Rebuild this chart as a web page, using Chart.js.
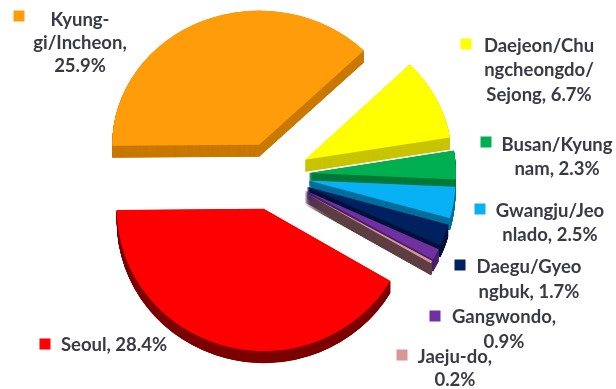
<!DOCTYPE html>
<html>
<head>
<meta charset="utf-8">
<style>html,body{margin:0;padding:0;background:#fff}canvas{display:block}</style>
<script src="https://cdn.jsdelivr.net/npm/chart.js@4/dist/chart.umd.min.js"></script>
</head>
<body>
<canvas id="pie" width="616" height="389"></canvas>
<script>
// Regional shares, clockwise from the nine o'clock position
const regions = ["Kyung-gi/Incheon", "Daejeon/Chungcheongdo/Sejong", "Busan/Kyungnam", "Gwangju/Jeonlado", "Daegu/Gyeongbuk", "Gangwondo", "Jaeju-do", "Seoul"];
const shares = [25.9, 6.7, 2.3, 2.5, 1.7, 0.9, 0.2, 28.4];
const faceColors = ["#ff9c0a", "#ffff00", "#00b050", "#08b0f4", "#002060", "#7030a0", "#d99694", "#ff0000"];
const sideColors = ["#c97800", "#c8c400", "#007a38", "#006f9c", "#00133c", "#4a1f70", "#5e4044", "#7c0000"];

// Wrapped label text, one entry per line, as printed beside each slice
const labelLines = [
  ["Kyung-", "gi/Incheon,", "25.9%"],
  ["Daejeon/Chu", "ngcheongdo/", "Sejong, 6.7%"],
  ["Busan/Kyung", "nam, 2.3%"],
  ["Gwangju/Jeo", "nlado, 2.5%"],
  ["Daegu/Gyeo", "ngbuk, 1.7%"],
  ["Gangwondo,", "0.9%"],
  ["Jaeju-do,", "0.2%"],
  ["Seoul, 28.4%"]
];

// Label layout: swatch centre, text centre x, and the baseline-middle y of every line
const labelLayout = [
  {sx: 19, sy: 16, tx: 80, ys: [20, 43, 66]},
  {sx: 466, sy: 44, tx: 539, ys: [46, 70, 95]},
  {sx: 486, sy: 142, tx: 557, ys: [145, 169]},
  {sx: 480, sy: 209, tx: 550, ys: [211, 235]},
  {sx: 460, sy: 265, tx: 529, ys: [267, 292]},
  {sx: 435, sy: 316, tx: 504, ys: [317, 342]},
  {sx: 402, sy: 355, tx: 455, ys: [357, 380]},
  {sx: 45, sy: 344, tx: 114, ys: [345]}
];

const TILT = 0.94;         // vertical squash of the pie plane
const PERSPECTIVE = 0.03;  // front wedges read a little taller than back ones
const DEPTH = 12;          // height of the slice walls in pixels
const EXPLODE = 36;        // how far every wedge is pulled out from the centre

// Draws each arc as an extruded, pulled-out wedge on a tilted plane
const tiltedPie = {
  id: "tiltedPie",
  beforeDatasetDraw(chart, args) {
    const ctx = chart.ctx;
    const area = chart.chartArea;
    const midY = (area.top + area.bottom) / 2;
    args.meta.data.forEach((arc, i) => {
      const mid = (arc.startAngle + arc.endAngle) / 2;
      const tilt = TILT + PERSPECTIVE * Math.sin(mid);
      ctx.save();
      ctx.translate(0, midY);
      ctx.scale(1, tilt);
      ctx.translate(0, -midY);
      ctx.translate(Math.cos(mid) * EXPLODE, Math.sin(mid) * EXPLODE);
      const own = arc.options;
      arc.options = {...own, backgroundColor: sideColors[i]};
      for (let d = DEPTH; d > 0; d -= 0.25) {
        ctx.save();
        ctx.translate(0, d / tilt);
        arc.draw(ctx);
        ctx.restore();
      }
      arc.options = own;
      arc.draw(ctx);
      ctx.restore();
    });
    return false;
  }
};

// Swatch and wrapped text for every slice
const sliceLabels = {
  id: "sliceLabels",
  afterDraw(chart) {
    const ctx = chart.ctx;
    ctx.save();
    ctx.font = '700 18.5px Lato';
    ctx.textAlign = "center";
    ctx.textBaseline = "middle";
    labelLayout.forEach((pos, i) => {
      ctx.fillStyle = faceColors[i];
      ctx.fillRect(pos.sx - 5.5, pos.sy - 5.5, 11, 11);
      ctx.fillStyle = "#3a3a44";
      labelLines[i].forEach((line, k) => ctx.fillText(line, pos.tx, pos.ys[k]));
    });
    ctx.restore();
  }
};

new Chart(document.getElementById("pie"), {
  type: "pie",
  data: {
    labels: regions,
    datasets: [{
      data: shares,
      backgroundColor: faceColors,
      borderWidth: 0,
      clip: false
    }]
  },
  options: {
    responsive: false,
    animation: false,
    rotation: 269.5,
    radius: 147,
    layout: {padding: {right: 70, bottom: 39}},
    plugins: {legend: {display: false}, tooltip: {enabled: false}}
  },
  plugins: [tiltedPie, sliceLabels]
});
</script>
</body>
</html>
